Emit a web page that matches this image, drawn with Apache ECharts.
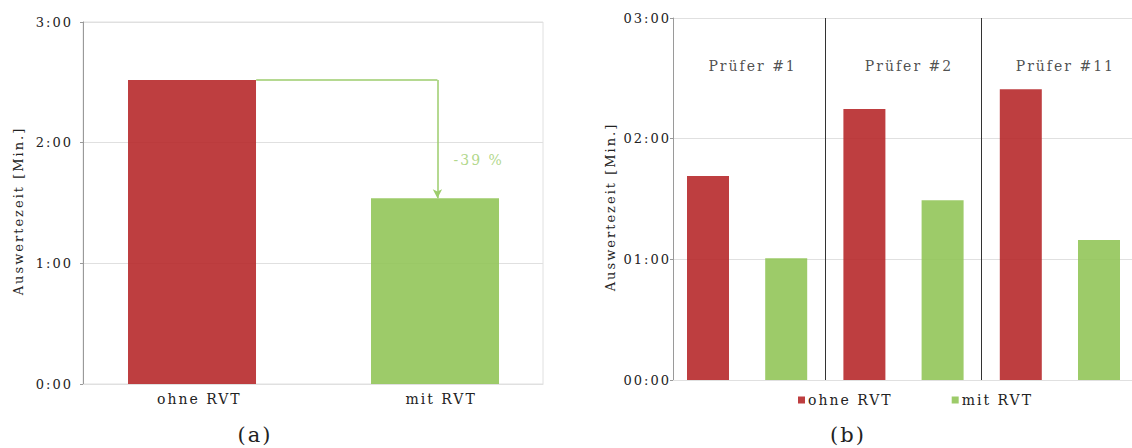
<!DOCTYPE html>
<html>
<head>
<meta charset="utf-8">
<script src="https://cdn.jsdelivr.net/npm/echarts@6/dist/echarts.min.js"></script>
<style>
  html, body { margin: 0; padding: 0; background: #fff; }
  #main { width: 1132px; height: 448px; }
  #main svg text { letter-spacing: 2px; }
</style>
</head>
<body>
<div id="main"></div>
<script>
// ---- data (minutes, decimal) ----
const catsA = ['ohne RVT', 'mit RVT'];
const valuesA = [2.52, 1.54];
const groupsB = ['Prüfer #1', 'Prüfer #2', 'Prüfer #11'];
const seriesNamesB = ['ohne RVT', 'mit RVT'];
const ohneB = [1.69, 2.245, 2.41];
const mitB = [1.01, 1.49, 1.16];
const yAxisName = 'Auswertezeit [Min.]';

// ---- style ----
const FONT = "DejaVu Serif";
const RED = 'rgba(183,41,43,0.9)';
const GREEN = 'rgba(146,197,89,0.9)';
const ARROW = '#9dcd6c';
const TXT = '#222';
const GRID = '#e0e0e0';
const AXIS = '#9a9a9a';

function fmt(v, pad2) {
  const m = Math.floor(v + 1e-9);
  const s = Math.round((v - m) * 60);
  const mm = pad2 ? String(m).padStart(2, '0') : String(m);
  return mm + ':' + String(s).padStart(2, '0');
}

const pct = Math.round((valuesA[1] / valuesA[0] - 1) * 100);

const chart = echarts.init(document.getElementById('main'), null, { renderer: 'svg' });

function yAx(gridIndex, pad2, nameGap, labelMargin) {
  return {
    gridIndex, type: 'value', min: 0, max: 3, interval: 1,
    name: yAxisName, nameLocation: 'middle', nameGap, nameRotate: 90,
    nameTextStyle: { fontFamily: FONT, fontSize: 13, color: TXT, padding: [0, 16, 0, 0] },
    axisLine: { show: true, onZero: false, lineStyle: { color: AXIS, width: 1 } },
    axisTick: { show: true, length: 3, lineStyle: { color: AXIS } },
    axisLabel: { formatter: v => fmt(v, pad2), fontFamily: FONT, fontSize: 13, color: TXT, margin: labelMargin },
    splitLine: { show: true, lineStyle: { color: GRID, width: 1 } }
  };
}

const option = {
  animation: false,
  backgroundColor: '#fff',
  textStyle: { fontFamily: FONT },
  grid: [
    { left: 83, top: 22, width: 460, height: 362, show: true, borderColor: GRID, borderWidth: 1, backgroundColor: 'transparent' },
    { left: 673, top: 18, width: 459, height: 362 }
  ],
  xAxis: [
    {
      gridIndex: 0, type: 'value', min: -0.4486, max: 1.4444,
      splitLine: { show: false },
      axisLine: { show: true, onZero: false, lineStyle: { color: GRID } },
      axisTick: { show: false },
      axisLabel: {
        customValues: [0.03, 1.025],
        formatter: v => catsA[Math.round(v)],
        fontFamily: FONT, fontSize: 14, color: TXT, margin: 8
      }
    },
    {
      gridIndex: 1, type: 'value', min: -0.4476, max: 5.422,
      splitLine: { show: false },
      axisLine: { show: true, onZero: false, lineStyle: { color: GRID } },
      axisTick: { show: false },
      axisLabel: { show: false }
    }
  ],
  yAxis: [yAx(0, false, 58, 10), yAx(1, true, 56, 2)],
  legend: {
    data: seriesNamesB,
    left: 793, top: 388,
    icon: 'rect', itemWidth: 7, itemHeight: 7, itemGap: 75,
    textStyle: { fontFamily: FONT, fontSize: 14, color: TXT, padding: [0, 0, 0, -2] }
  },
  graphic: [
    { type: 'text', x: 255, y: 435, style: { text: '(a)', fontFamily: FONT, fontSize: 21, fill: TXT, textAlign: 'center', textVerticalAlign: 'middle' } },
    { type: 'text', x: 848, y: 435, style: { text: '(b)', fontFamily: FONT, fontSize: 21, fill: TXT, textAlign: 'center', textVerticalAlign: 'middle' } }
  ],
  series: [
    {
      type: 'bar', xAxisIndex: 0, yAxisIndex: 0, barWidth: 128,
      data: catsA.map((c, i) => ({ value: [i, valuesA[i]], itemStyle: { color: i === 0 ? RED : GREEN } })),
      markLine: {
        silent: true, animation: false,
        label: { show: false },
        lineStyle: { color: ARROW, width: 1.5, type: 'solid' },
        data: [
          [{ coord: [0.264, valuesA[0]], symbol: 'none' }, { coord: [1.01, valuesA[0]], symbol: 'none' }],
          [{ coord: [1.01, valuesA[0]], symbol: 'none' }, { coord: [1.01, valuesA[1]], symbol: 'arrow', symbolSize: [7, 9] }]
        ]
      }
    },
    {
      type: 'scatter', xAxisIndex: 0, yAxisIndex: 0, silent: true,
      symbolSize: 1, itemStyle: { color: 'rgba(0,0,0,0)' },
      data: [[1.18, 1.856]],
      label: { show: true, position: 'inside', formatter: () => pct + ' %', fontFamily: FONT, fontSize: 14, color: ARROW }
    },
    {
      name: seriesNamesB[0], type: 'bar', xAxisIndex: 1, yAxisIndex: 1, barWidth: 42, barGap: '-100%',
      itemStyle: { color: RED },
      data: ohneB.map((v, i) => [2 * i, v]),
      markLine: {
        silent: true, animation: false, symbol: 'none',
        label: { show: false },
        lineStyle: { color: '#333', width: 1, type: 'solid' },
        data: groupsB.slice(1).map((g, i) => ({ xAxis: 2 * i + 1.5 }))
      }
    },
    {
      name: seriesNamesB[1], type: 'bar', xAxisIndex: 1, yAxisIndex: 1, barWidth: 42, barGap: '-100%',
      itemStyle: { color: GREEN },
      data: mitB.map((v, i) => [2 * i + 1, v])
    },
    {
      type: 'scatter', xAxisIndex: 1, yAxisIndex: 1, silent: true,
      symbolSize: 1, itemStyle: { color: 'rgba(0,0,0,0)' },
      data: groupsB.map((g, i) => ({ value: [2 * i + 0.57, 2.6], name: g })),
      label: { show: true, position: 'inside', formatter: p => p.name, fontFamily: FONT, fontSize: 14, color: TXT }
    }
  ]
};
chart.setOption(option);
</script>
</body>
</html>
